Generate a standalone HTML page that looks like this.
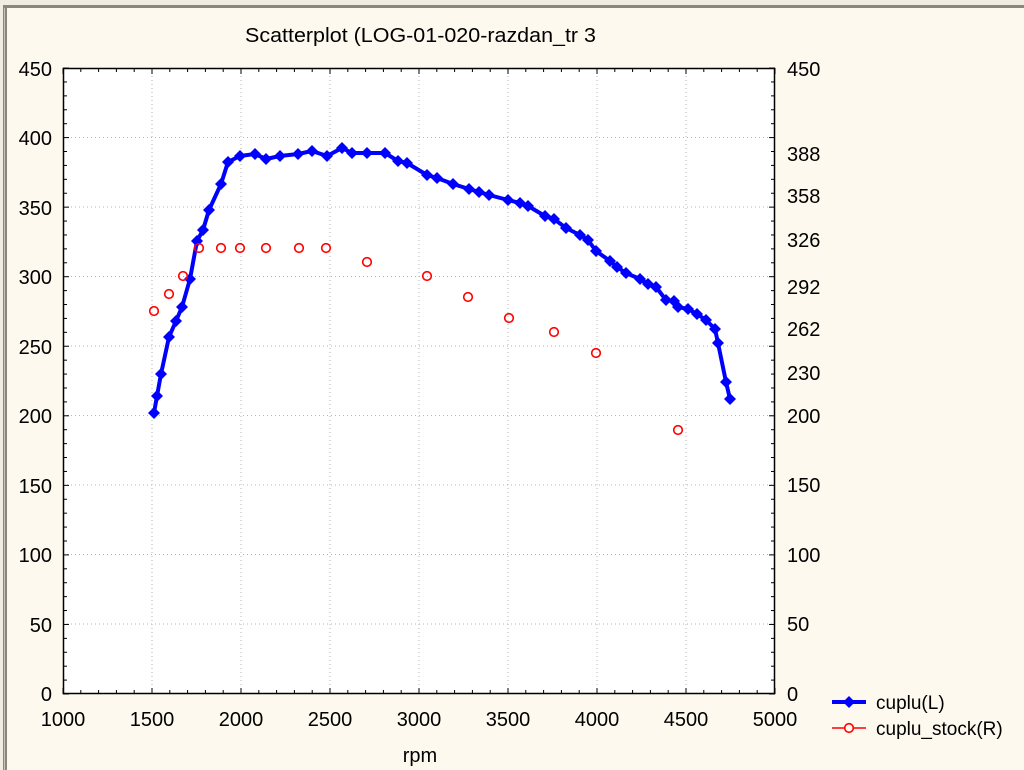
<!DOCTYPE html>
<html><head><meta charset="utf-8"><style>
html,body{margin:0;padding:0;background:#fdf9ee;}
svg{display:block;font-family:"Liberation Sans",Arial,sans-serif;}
</style></head><body>
<svg width="1024" height="770" viewBox="0 0 1024 770" xmlns="http://www.w3.org/2000/svg">
<rect width="1024" height="770" fill="#fdf9ee"/>
<rect x="0" y="0" width="1024" height="5" fill="#f1ede2"/>
<rect x="0" y="5" width="1024" height="3" fill="#8a877e"/>
<rect x="0" y="0" width="3" height="770" fill="#f1ede2"/>
<rect x="3" y="5" width="4" height="765" fill="#8a877e"/>
<rect x="4" y="8" width="1" height="762" fill="#c8c4b8"/>
<text x="245" y="42" font-size="20" textLength="351" lengthAdjust="spacingAndGlyphs">Scatterplot (LOG-01-020-razdan_tr 3</text>
<rect x="63" y="68" width="712" height="626" fill="#fff"/>
<g stroke="#b5b5b5" stroke-width="1" stroke-dasharray="1,3">
<line x1="152" y1="68" x2="152" y2="694"/><line x1="241" y1="68" x2="241" y2="694"/><line x1="330" y1="68" x2="330" y2="694"/><line x1="419" y1="68" x2="419" y2="694"/><line x1="508" y1="68" x2="508" y2="694"/><line x1="597" y1="68" x2="597" y2="694"/><line x1="686" y1="68" x2="686" y2="694"/>
<line x1="63" y1="137.5" x2="775" y2="137.5"/><line x1="63" y1="207" x2="775" y2="207"/><line x1="63" y1="276.5" x2="775" y2="276.5"/><line x1="63" y1="346" x2="775" y2="346"/><line x1="63" y1="415.5" x2="775" y2="415.5"/><line x1="63" y1="485" x2="775" y2="485"/><line x1="63" y1="554.5" x2="775" y2="554.5"/><line x1="63" y1="624" x2="775" y2="624"/>
</g>
<g id="ticks" stroke="#000" stroke-width="1"></g>
<rect x="63.5" y="68.5" width="711" height="625" fill="none" stroke="#000" stroke-width="1.5"/>
<g font-size="20" text-anchor="end">
<text x="52" y="76">450</text><text x="52" y="145">400</text><text x="52" y="215">350</text><text x="52" y="284">300</text><text x="52" y="354">250</text><text x="52" y="423">200</text><text x="52" y="493">150</text><text x="52" y="562">100</text><text x="52" y="632">50</text><text x="52" y="701">0</text>
</g>
<g font-size="20">
<text x="787" y="76">450</text><text x="787" y="161">388</text><text x="787" y="203">358</text><text x="787" y="247">326</text><text x="787" y="294">292</text><text x="787" y="336">262</text><text x="787" y="380">230</text><text x="787" y="423">200</text><text x="787" y="492">150</text><text x="787" y="562">100</text><text x="787" y="631">50</text><text x="787" y="701">0</text>
</g>
<g font-size="20" text-anchor="middle">
<text x="63" y="726">1000</text><text x="152" y="726">1500</text><text x="241" y="726">2000</text><text x="330" y="726">2500</text><text x="419" y="726">3000</text><text x="508" y="726">3500</text><text x="597" y="726">4000</text><text x="686" y="726">4500</text><text x="775" y="726">5000</text>
<text x="420" y="762">rpm</text>
</g>
<polyline fill="none" stroke="#0000ff" stroke-width="4" stroke-linejoin="round" points="154,413 157,396 161,374 169,337 176,321 182,307 190,279 197,241 203,230 209,210 221,184 228,162 240,156 255,154 266,159 280,156 298,154 312,151 327,156 342,148 352,153 367,153 385,153 398,161 407,163 427,175 437,178 453,184 469,189 479,192 489,195 508,200 520,203 528,206 545,216 554,219 566,228 580,235 588,240 596,251 610,261 617,267 626,273 640,279 648,284 656,287 666,300 674,301 678,307 688,309 697,314 706,320 715,329 718,343 726,382 730,399"/>
<g id="diam" fill="#0000ff"></g>
<g fill="none" stroke="#ff0000" stroke-width="1.6">
<circle cx="154" cy="311" r="4.3"/><circle cx="169" cy="294" r="4.3"/><circle cx="183" cy="276" r="4.3"/><circle cx="199" cy="248" r="4.3"/><circle cx="221" cy="248" r="4.3"/><circle cx="240" cy="248" r="4.3"/><circle cx="266" cy="248" r="4.3"/><circle cx="299" cy="248" r="4.3"/><circle cx="326" cy="248" r="4.3"/><circle cx="367" cy="262" r="4.3"/><circle cx="427" cy="276" r="4.3"/><circle cx="468" cy="297" r="4.3"/><circle cx="509" cy="318" r="4.3"/><circle cx="554" cy="332" r="4.3"/><circle cx="596" cy="353" r="4.3"/><circle cx="678" cy="430" r="4.3"/>
</g>
<line x1="832" y1="702" x2="866" y2="702" stroke="#0000ff" stroke-width="4"/>
<polygon points="849,696 855,702 849,708 843,702" fill="#0000ff"/>
<text x="876" y="709" font-size="19">cuplu(L)</text>
<line x1="832" y1="728" x2="866" y2="728" stroke="#ff0000" stroke-width="1.5"/>
<circle cx="849" cy="728" r="4.3" fill="#fdf9ee" stroke="#ff0000" stroke-width="1.6"/>
<text x="876" y="735" font-size="19">cuplu_stock(R)</text>
</svg>
<script>
var pts="154,413 157,396 161,374 169,337 176,321 182,307 190,279 197,241 203,230 209,210 221,184 228,162 240,156 255,154 266,159 280,156 298,154 312,151 327,156 342,148 352,153 367,153 385,153 398,161 407,163 427,175 437,178 453,184 469,189 479,192 489,195 508,200 520,203 528,206 545,216 554,219 566,228 580,235 588,240 596,251 610,261 617,267 626,273 640,279 648,284 656,287 666,300 674,301 678,307 688,309 697,314 706,320 715,329 718,343 726,382 730,399".split(" ");
var NS="http://www.w3.org/2000/svg",g=document.getElementById("diam");
pts.forEach(function(p){var a=p.split(",").map(Number);var e=document.createElementNS(NS,"polygon");e.setAttribute("points",(a[0])+","+(a[1]-6)+" "+(a[0]+6)+","+a[1]+" "+a[0]+","+(a[1]+6)+" "+(a[0]-6)+","+a[1]);g.appendChild(e);});
var t=document.getElementById("ticks");
function L(x1,y1,x2,y2){var e=document.createElementNS(NS,"line");e.setAttribute("x1",x1);e.setAttribute("y1",y1);e.setAttribute("x2",x2);e.setAttribute("y2",y2);t.appendChild(e);}
for(var i=0;i<=40;i++){var x=63+i*17.8;var l=(i%5==0)?6:4;L(x,694,x,694-l);L(x,68,x,68+l);}
for(var j=0;j<=45;j++){var y=694-j*13.91;var l2=(j%5==0)?6:4;L(63,y,63+l2,y);L(775,y,775-l2,y);}
</script>
</body></html>
